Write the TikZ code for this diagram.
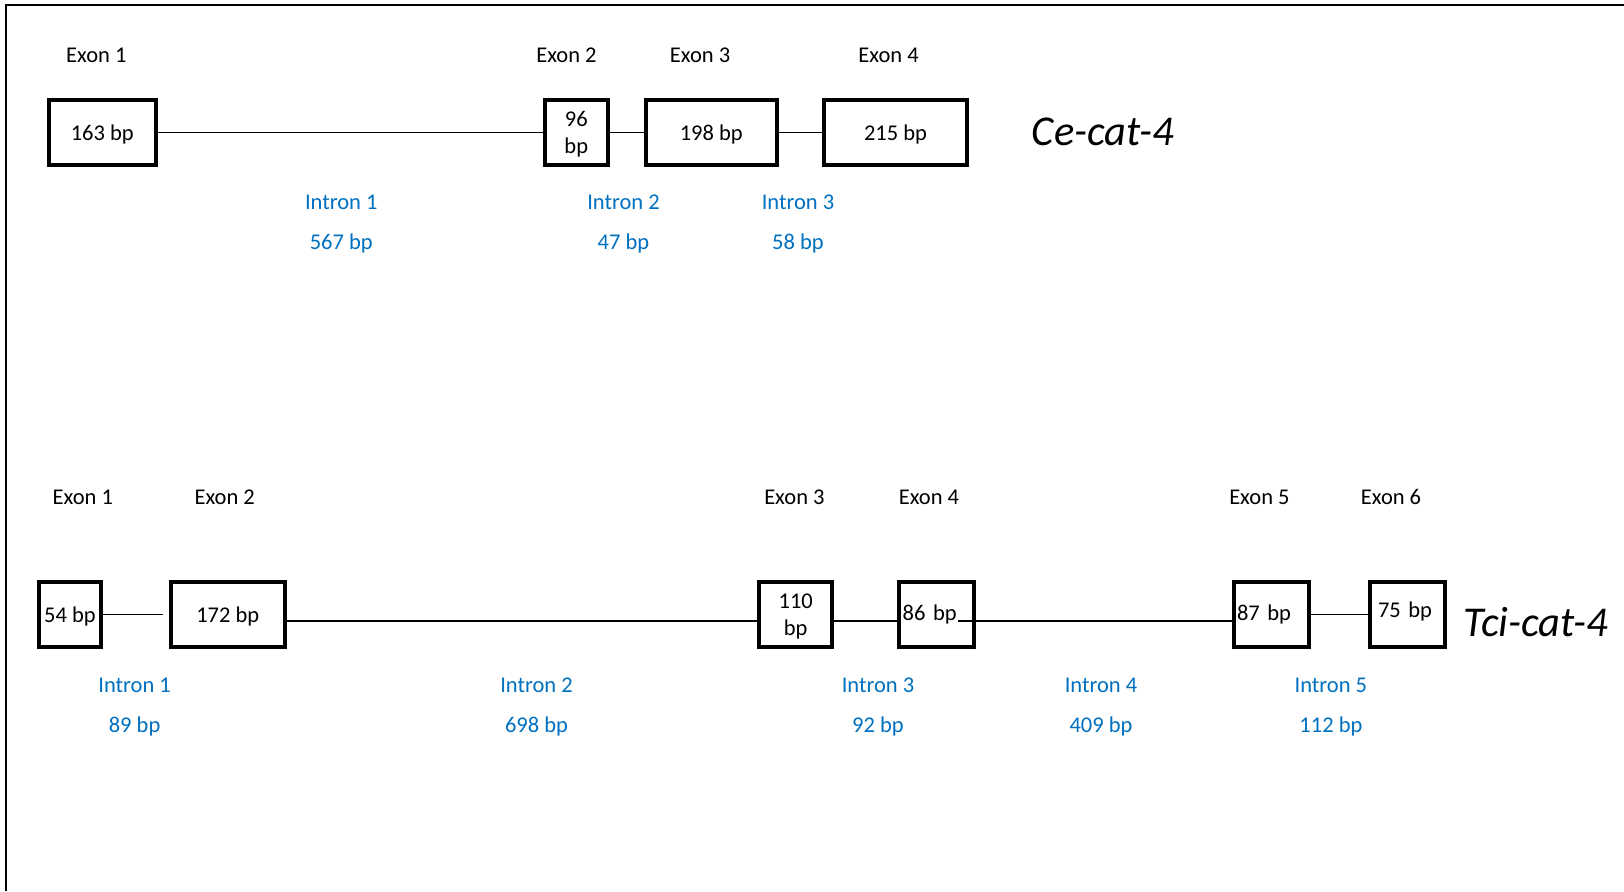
\documentclass[tikz,border=0pt]{standalone}
\usepackage{fontspec}
\setmainfont{Carlito}
\usetikzlibrary{calc}
\definecolor{GeneInk}{HTML}{000000}
\definecolor{GeneIntron}{HTML}{0070C0}
\tikzset{
  every node/.style={font=\fontsize{22.5}{27}\selectfont, text=GeneInk, inner sep=0pt},
  exon/.style={draw=GeneInk, line width=4pt, fill=white, minimum height=65pt, align=center, text depth=0pt},
  intron/.style={draw=GeneInk, line width=1.3pt},
  intronname/.style={font=\fontsize{22.5}{40}\selectfont, text=GeneIntron, align=center},
  genename/.style={font=\fontsize{42.5}{50}\selectfont\itshape},
  frame/.style={draw=GeneInk, line width=2pt},
}

\begin{document}
\begin{tikzpicture}[x=1pt, y=-1pt]
  \useasboundingbox (0,0) rectangle (1624,891);
  \draw[frame] (1624,5) -- (6,5) -- (6,891);
  % Gene 1: Ce-cat-4, four exons
  \node[exon, minimum width=107.3pt] (ce1) at (102.3,132.3) {163 bp};
  \node[exon, minimum width=63.3pt] (ce2) at (576.3,132.3) {96\\bp};
  \node[exon, minimum width=130.7pt] (ce3) at (711.3,132.3) {198 bp};
  \node[exon, minimum width=143.6pt] (ce4) at (895.5,132.3) {215 bp};
  \draw[intron] (ce1.east) -- (ce2.west);
  \draw[intron] (ce2.east) -- (ce3.west);
  \draw[intron] (ce3.east) -- (ce4.west);
  \node (ce1name) at (96.3,54.9) {Exon 1};
  \node (ce2name) at (566.5,54.9) {Exon 2};
  \node (ce3name) at (700.1,54.9) {Exon 3};
  \node (ce4name) at (888.6,54.9) {Exon 4};
  \node[intronname] (cei1) at (341.3,224.5) {Intron 1\\567 bp};
  \node[intronname] (cei2) at (623.5,224.5) {Intron 2\\47 bp};
  \node[intronname] (cei3) at (798,224.5) {Intron 3\\58 bp};
  \node[genename] (cename) at (1103,131.5) {Ce-cat-4};
  % Gene 2: Tci-cat-4, six exons
  \coordinate (tcispine) at (0,621);
  \node[exon, minimum width=61.4pt] (tc1) at (70,614.7) {54 bp};
  \node[exon, minimum width=113.7pt] (tc2) at (227.8,614.7) {172 bp};
  \node[exon, minimum width=72.7pt] (tc3) at (795.7,614.7) {\fontsize{22.5}{28}\selectfont 110\\bp};
  \node[exon, minimum width=75.3pt, text width=67.2pt, align=left, text depth=5pt] (tc4) at (936.3,614.7) {86 bp};
  \node[exon, minimum width=74.4pt, text width=69pt, align=left, text depth=5pt] (tc5) at (1271.5,614.7) {87 bp};
  \node[exon, minimum width=75pt, text width=59.6pt, align=left, text depth=10pt] (tc6) at (1407.8,614.7) {75 bp};
  \draw[intron] (tc1.east) -- ([xshift=-6pt]tc2.west);
  \draw[intron] (tc2.east |- tcispine) -- (tc3.west |- tcispine);
  \draw[intron] (tc3.east |- tcispine) -- (tc4.west |- tcispine);
  \draw[intron] ([xshift=-18pt]tc4.east |- tcispine) -- (tc5.west |- tcispine);
  \draw[intron] (tc5.east) -- (tc6.west);
  \node (tc1name) at (82.9,497.1) {Exon 1};
  \node (tc2name) at (224.7,497.1) {Exon 2};
  \node (tc3name) at (794.4,497.1) {Exon 3};
  \node (tc4name) at (929,497.1) {Exon 4};
  \node (tc5name) at (1259.4,497.1) {Exon 5};
  \node (tc6name) at (1391,497.1) {Exon 6};
  \node[intronname] (tci1) at (134.6,707.5) {Intron 1\\89 bp};
  \node[intronname] (tci2) at (536.5,707.5) {Intron 2\\698 bp};
  \node[intronname] (tci3) at (878,707.5) {Intron 3\\92 bp};
  \node[intronname] (tci4) at (1101,707.5) {Intron 4\\409 bp};
  \node[intronname] (tci5) at (1330.9,707.5) {Intron 5\\112 bp};
  \node[genename] (tciname) at (1536,621.7) {Tci-cat-4};
\end{tikzpicture}
\end{document}
